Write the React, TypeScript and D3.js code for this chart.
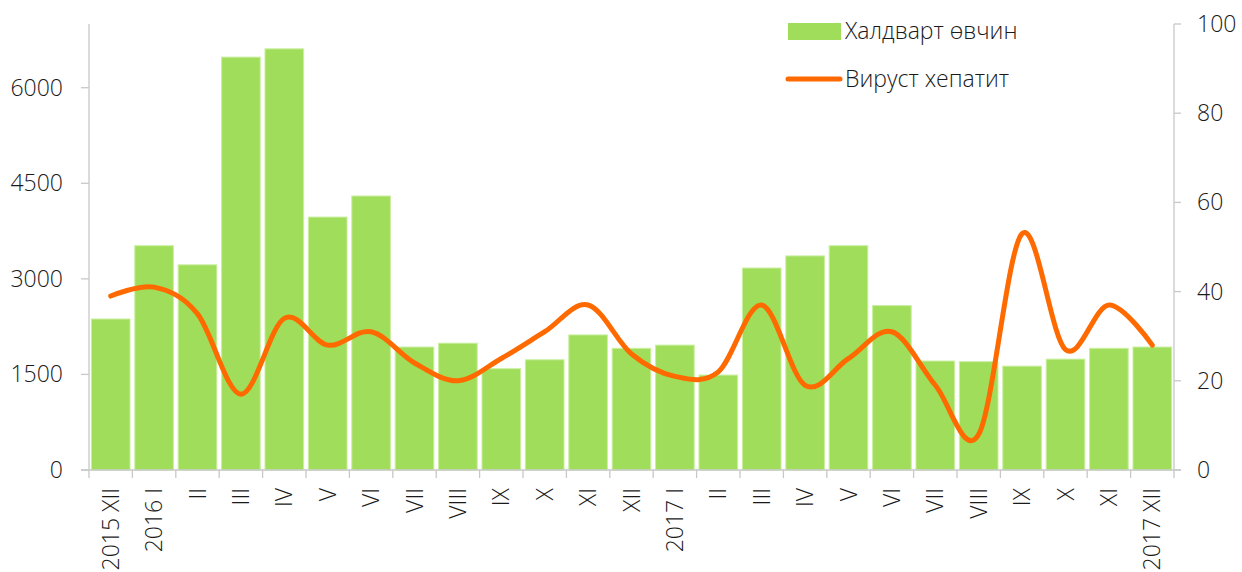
import React from "react";
import * as d3 from "d3";

const categories = [
  "2015 XII", "2016 I", "II", "III", "IV", "V", "VI", "VII", "VIII", "IX", "X", "XI", "XII",
  "2017 I", "II", "III", "IV", "V", "VI", "VII", "VIII", "IX", "X", "XI", "2017 XII",
];
const infectious = [
  2370, 3520, 3220, 6480, 6610, 3970, 4300, 1930, 1990, 1590, 1730, 2120, 1910,
  1960, 1490, 3170, 3360, 3520, 2580, 1710, 1700, 1630, 1740, 1910, 1930,
];
const hepatitis = [
  39, 41, 35, 17, 34, 28, 31, 24, 20, 25, 31, 37, 26,
  21, 22, 37, 19, 25, 31, 19, 8, 53, 27, 37, 28,
];
const leftTicks = [0, 1500, 3000, 4500, 6000];
const rightTicks = [0, 20, 40, 60, 80, 100];
const seriesNames = ["Халдварт өвчин", "Вируст хепатит"];

const W = 1242, H = 572;
const left = 89, right = 1174, top = 24, bottom = 470;
const font = "'Open Sans', sans-serif";
const fs = 23;
const green = "#a0dd5a";
const orange = "#ff6a00";
const axisColor = "#c8c8c8";
const textColor = "#1a1a1a";

export default function App() {
  const keys = categories.map((c, i) => i + "");
  const x = d3.scaleBand<string>().domain(keys).range([left, right]).paddingInner(0.11).paddingOuter(0.055);
  const xb = d3.scaleBand<string>().domain(keys).range([left, right]);
  const yL = d3.scaleLinear().domain([0, 7000]).range([bottom, top]);
  const yR = d3.scaleLinear().domain([0, 100]).range([bottom, top]);
  const line = d3.line<number>()
    .x((d, i) => (xb(i + "") as number) + xb.bandwidth() / 2)
    .y((d) => yR(d))
    .curve(d3.curveCardinal.tension(0));
  const boundaries = d3.range(categories.length + 1).map((i) => left + i * xb.bandwidth());

  return (
    <svg width={W} height={H} style={{ position: "absolute", left: 0, top: 0, background: "#fff" }}>
      {infectious.map((v, i) => (
        <rect key={i} x={x(i + "")} y={yL(v)} width={x.bandwidth()} height={bottom - yL(v)}
          fill={green} stroke="#c9ef9f" strokeWidth={1} />
      ))}
      <line x1={left} x2={left} y1={top} y2={bottom} stroke={axisColor} strokeWidth={1.3} />
      {leftTicks.map((t) => (
        <g key={t}>
          <line x1={left - 8} x2={left} y1={yL(t)} y2={yL(t)} stroke={axisColor} strokeWidth={1.3} />
          <text x={63} y={yL(t)} dy="0.35em" textAnchor="end" fontFamily={font} fontWeight={300} fontSize={fs} fill={textColor}>{t}</text>
        </g>
      ))}
      <line x1={right} x2={right} y1={top} y2={bottom} stroke={axisColor} strokeWidth={1.3} />
      {rightTicks.map((t) => (
        <g key={t}>
          <line x1={right} x2={right + 7} y1={yR(t)} y2={yR(t)} stroke={axisColor} strokeWidth={1.3} />
          <text x={1197} y={yR(t)} dy="0.35em" textAnchor="start" fontFamily={font} fontWeight={300} fontSize={fs} fill={textColor}>{t}</text>
        </g>
      ))}
      <line x1={left - 8} x2={right + 7} y1={bottom} y2={bottom} stroke={axisColor} strokeWidth={1.3} />
      {boundaries.map((b, i) => (
        <line key={i} x1={b} x2={b} y1={bottom} y2={bottom + 8} stroke={axisColor} strokeWidth={1.3} />
      ))}
      {categories.map((c, i) => {
        const cx = (xb(i + "") as number) + xb.bandwidth() / 2;
        return (
          <text key={i} transform={`translate(${cx},488) rotate(-90)`} dy="0.35em" textAnchor="end"
            fontFamily={font} fontWeight={300} fontSize={fs} fill={textColor}>{c}</text>
        );
      })}
      <path d={line(hepatitis) || ""} fill="none" stroke={orange} strokeWidth={5} strokeLinecap="round" />
      <rect x={788} y={23} width={53} height={17} fill={green} />
      <text x={845} y={31} dy="0.35em" fontFamily={font} fontWeight={300} fontSize={fs} fill={textColor}>{seriesNames[0]}</text>
      <line x1={788} x2={840} y1={79} y2={79} stroke={orange} strokeWidth={5} strokeLinecap="round" />
      <text x={845} y={79} dy="0.35em" fontFamily={font} fontWeight={300} fontSize={fs} fill={textColor}>{seriesNames[1]}</text>
    </svg>
  );
}
